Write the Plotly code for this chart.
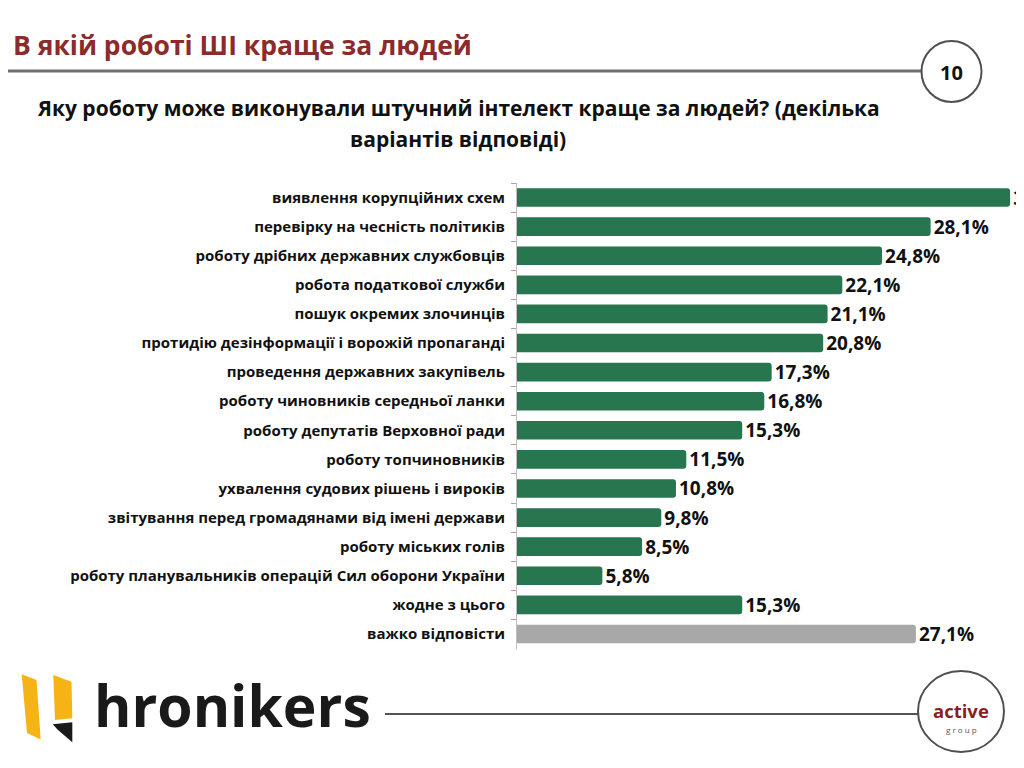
import plotly.graph_objects as go

categories = [
    "виявлення корупційних схем",
    "перевірку на чесність політиків",
    "роботу дрібних державних службовців",
    "робота податкової служби",
    "пошук окремих злочинців",
    "протидію дезінформації і ворожій пропаганді",
    "проведення державних закупівель",
    "роботу чиновників середньої ланки",
    "роботу депутатів Верховної ради",
    "роботу топчиновників",
    "ухвалення судових рішень і вироків",
    "звітування перед громадянами від імені держави",
    "роботу міських голів",
    "роботу планувальників операцій Сил оборони України",
    "жодне з цього",
    "важко відповісти",
]
values = [33.5, 28.1, 24.8, 22.1, 21.1, 20.8, 17.3, 16.8, 15.3, 11.5, 10.8, 9.8, 8.5, 5.8, 15.3, 27.1]

title_text = "В якій роботі ШІ краще за людей"
subtitle_lines = ["Яку роботу може виконували штучний інтелект краще за людей? (декілька",
                  "варіантів відповіді)"]
page_number = "10"
brand_text = "hronikers"

GREEN = "#287650"
GRAY = "#a8a8a8"
colors = [GREEN] * (len(values) - 1) + [GRAY]

W, H = 1024, 768
OFF = 8  # page body margin offset
def X(px):
    return (px - OFF) / W
def Y(py):
    return 1 - (py - OFF) / H

FONT = "Open Sans"

fig = go.Figure(go.Bar(
    x=values, y=categories, orientation="h",
    marker=dict(color=colors, cornerradius=3, line=dict(width=0)),
    texttemplate="%{x:.1f}%", textposition="outside", cliponaxis=False,
    constraintext="none",
    textfont=dict(family=FONT, size=19, color="#111111", weight="bold"),
    hoverinfo="skip",
))

axis_left = 517
px_per_unit = 14.72

fig.update_layout(
    width=W, height=H,
    margin=dict(l=0, r=0, t=0, b=0),
    paper_bgcolor="white", plot_bgcolor="white",
    separators=", ",
    showlegend=False,
    bargap=0.36,
    xaxis=dict(domain=[X(axis_left), 1], range=[0, (W + OFF - axis_left) / px_per_unit],
               visible=False, fixedrange=True),
    yaxis=dict(domain=[Y(648.5), Y(183)], type="category", autorange="reversed",
               tickson="boundaries", ticks="outside", ticklen=5, tickcolor="#b0a0a0",
               showline=True, linecolor="#bfbfbf", linewidth=1, showgrid=False,
               ticklabelstandoff=8,
               tickfont=dict(family=FONT, size=15, color="#111111", weight="bold")),
)

shapes = []
# header line and page circle
shapes.append(dict(type="line", xref="paper", yref="paper", x0=X(0), x1=X(921), y0=Y(71), y1=Y(71),
                   line=dict(color="#6e6e6e", width=3)))
shapes.append(dict(type="circle", xref="paper", yref="paper", x0=X(921.5), x1=X(981.5), y0=Y(41), y1=Y(102),
                   line=dict(color="#505050", width=2), fillcolor="white"))
# footer line and circle
shapes.append(dict(type="line", xref="paper", yref="paper", x0=X(385), x1=X(920), y0=Y(714), y1=Y(714),
                   line=dict(color="#555555", width=2)))
shapes.append(dict(type="circle", xref="paper", yref="paper", x0=X(918), x1=X(1004), y0=Y(671), y1=Y(752),
                   line=dict(color="#505050", width=2), fillcolor="white"))

def poly(pts, color):
    d = "M " + " L ".join(f"{X(a):.5f},{Y(b):.5f}" for a, b in pts) + " Z"
    return dict(type="path", xref="paper", yref="paper", path=d, fillcolor=color, line=dict(width=0))

shapes.append(poly([(21.7, 674.3), (36.5, 680), (40.7, 739.5), (27, 733)], "#f5b316"))
shapes.append(poly([(53.3, 675), (71.5, 681.7), (72.3, 718.3), (55, 720)], "#f5b316"))
shapes.append(poly([(52.7, 724.3), (72.3, 722.3), (72.3, 742.3), (58, 730)], "#1a1a1a"))

fig.update_layout(shapes=shapes)

ann = []
ann.append(dict(text=f"<b>{title_text}</b>", x=X(11), y=Y(45), xref="paper", yref="paper",
                xanchor="left", yanchor="middle", showarrow=False,
                font=dict(family=FONT, size=26.5, color="#8c2b2b")))
ann.append(dict(text=f"<b>{page_number}</b>", x=X(951.5), y=Y(72), xref="paper", yref="paper",
                xanchor="center", yanchor="middle", showarrow=False,
                font=dict(family=FONT, size=20, color="#111111")))
for line, py in zip(subtitle_lines, [108, 139]):
    ann.append(dict(text=f"<b>{line}</b>", x=X(458), y=Y(py), xref="paper", yref="paper",
                    xanchor="center", yanchor="middle", showarrow=False,
                    font=dict(family=FONT, size=21, color="#111111")))
ann.append(dict(text=f"<b>{brand_text}</b>", x=X(92), y=Y(705), xref="paper", yref="paper",
                xanchor="left", yanchor="middle", showarrow=False,
                font=dict(family=FONT, size=57, color="#1a1a1a")))
ann.append(dict(text="<b>active</b>", x=X(961), y=Y(710), xref="paper", yref="paper",
                xanchor="center", yanchor="middle", showarrow=False,
                font=dict(family=FONT, size=18.5, color="#8b1f1f")))
ann.append(dict(text="g r o u p", x=X(961), y=Y(729), xref="paper", yref="paper",
                xanchor="center", yanchor="middle", showarrow=False,
                font=dict(family=FONT, size=8, color="#555555")))
fig.update_layout(annotations=ann)

fig.write_html("out.html")
